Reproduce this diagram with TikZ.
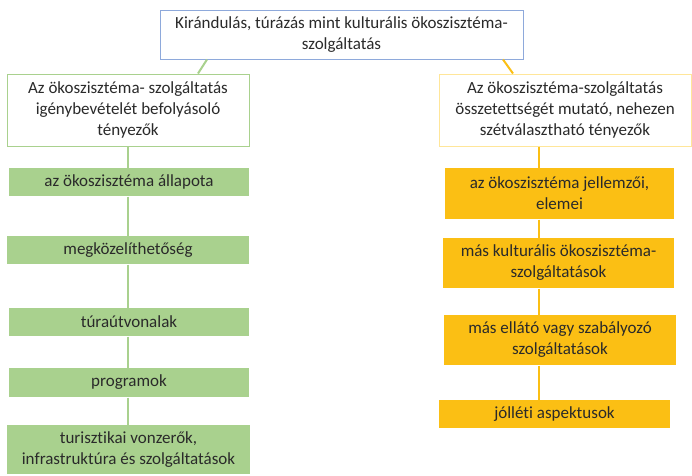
\documentclass[tikz,border=0pt]{standalone}
\usepackage{fontspec}
\setmainfont[Ligatures=CommonOff]{Carlito}
\usepackage{xcolor}
\usepackage{tikz}
\usetikzlibrary{positioning}
\definecolor{txtgray}{HTML}{2A2A2A}
\definecolor{topblue}{HTML}{8EA9DB}
\definecolor{lgreen}{HTML}{A9D18E}
\definecolor{lyellow}{HTML}{FFE699}
\definecolor{dyellow}{HTML}{FBBF14}

\begin{document}
\begin{tikzpicture}[x=1pt, y=-1pt,
box/.style={draw, line width=1pt, align=center, inner sep=0pt, text=txtgray, font=\fontsize{17}{21}\selectfont},
headbox/.style={box, draw=topblue, fill=white, minimum width=363pt, minimum height=49pt},
greenhead/.style={box, draw=lgreen, fill=white, minimum width=242pt, minimum height=72pt},
yellowhead/.style={box, draw=lyellow, fill=white, minimum width=252pt, minimum height=72pt},
greenbox/.style={box, draw=none, fill=lgreen, minimum width=240pt, minimum height=28pt},
yellowbox/.style={box, draw=none, fill=dyellow, minimum width=231pt, minimum height=50pt},
gline/.style={draw=lgreen, line width=2pt},
yline/.style={draw=dyellow, line width=2pt}]
\useasboundingbox (0,0) rectangle (692,475);
% headers
\node[headbox] (top) at (341.5,34.5) {Kirándulás, túrázás mint kulturális ökoszisztéma-\\szolgáltatás};
\node[greenhead] (left) at (128,110) {Az ökoszisztéma- szolgáltatás\\igénybevételét befolyásoló\\tényezők};
\node[yellowhead] (right) at (565,110) {Az ökoszisztéma-szolgáltatás\\összetettségét mutató, nehezen\\szétválasztható tényezők};
% left column
\node[greenbox] (g1) at (129,182) {az ökoszisztéma állapota};
\node[greenbox, minimum width=242pt] (g2) at (128,250) {megközelíthetőség};
\node[greenbox] (g3) at (129,322) {túraútvonalak};
\node[greenbox, minimum height=29pt] (g4) at (129,382.5) {programok};
\node[greenbox, minimum width=243pt, minimum height=49pt] (g5) at (128.5,449.5) {turisztikai vonzerők,\\infrastruktúra és szolgáltatások};
% right column
\node[yellowbox, minimum width=229pt, minimum height=51pt] (y1) at (559.5,193.5) {az ökoszisztéma jellemzői,\\elemei};
\node[yellowbox] (y2) at (558.5,263) {más kulturális ökoszisztéma-\\szolgáltatások};
\node[yellowbox, minimum width=232pt] (y3) at (560,340) {más ellátó vagy szabályozó\\szolgáltatások};
\node[yellowbox, minimum height=28pt] (y4) at (554.5,414) {jólléti aspektusok};
% connectors
\coordinate (gtrunk) at (128,0);
\coordinate (ytrunk) at (539,0);
\coordinate (gfoot) at (198,0);
\coordinate (yfoot) at (513,0);
\draw[gline] (top.south -| 207,0) -- (gfoot |- left.north);
\draw[yline] (top.south -| 503,0) -- (yfoot |- right.north);
\draw[gline] (gtrunk |- left.south) -- (gtrunk |- g1.north);
\draw[gline] (gtrunk |- g1.south) -- (gtrunk |- g2.north);
\draw[gline] (gtrunk |- g2.south) -- (gtrunk |- g3.north);
\draw[gline] (gtrunk |- g3.south) -- (gtrunk |- g4.north);
\draw[gline] (gtrunk |- g4.south) -- (gtrunk |- g5.north);
\draw[yline] (ytrunk |- right.south) -- (ytrunk |- y1.north);
\draw[yline] (ytrunk |- y1.south) -- (ytrunk |- y2.north);
\draw[yline] (ytrunk |- y2.south) -- (ytrunk |- y3.north);
\draw[yline] (ytrunk |- y3.south) -- (ytrunk |- y4.north);
\end{tikzpicture}
\end{document}
